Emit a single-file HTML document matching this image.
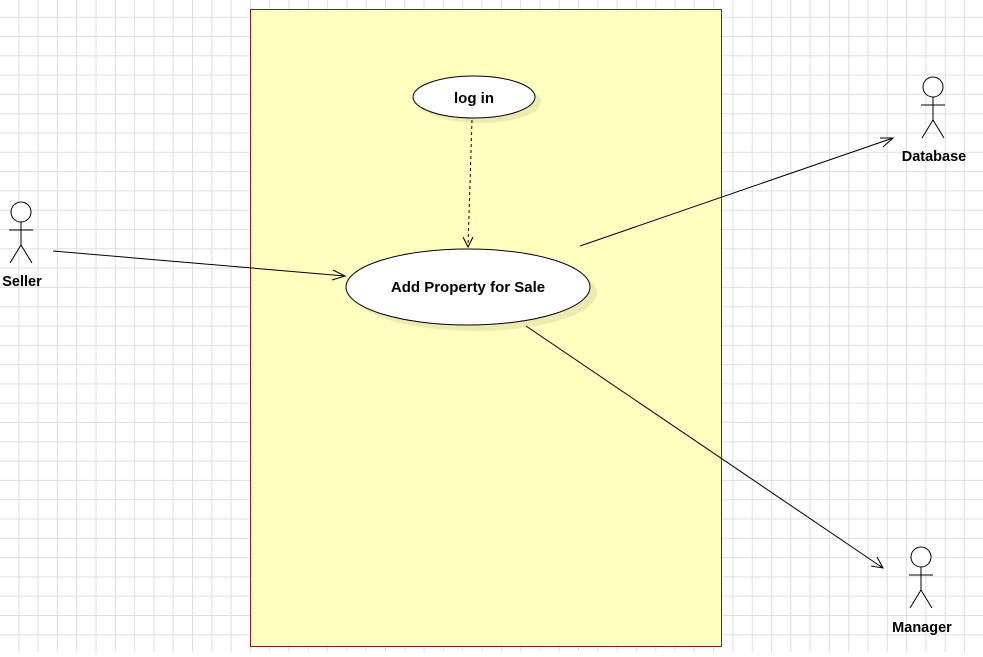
<!DOCTYPE html>
<html><head><style>body{margin:0;width:983px;height:652px;overflow:hidden;background:#fff}</style></head><body>
<svg width="983" height="652" xmlns="http://www.w3.org/2000/svg" font-family="Liberation Sans, sans-serif">
<defs>
<pattern id="g" x="0" y="-1.6" width="19.3" height="19.3" patternUnits="userSpaceOnUse">
<path d="M19.3 0V19.3M0 19.3H19.3" stroke="#dedede" stroke-width="2" fill="none"/>
</pattern>
</defs>
<rect width="983" height="652" fill="url(#g)"/>
<rect x="250.5" y="9.5" width="471" height="637" fill="#ffffc0" stroke="#8b1a1a" stroke-width="1"/>
<ellipse cx="480" cy="102" rx="61" ry="21" fill="#ecebb0"/>
<ellipse cx="474" cy="97" rx="61" ry="21" fill="#fff" stroke="#000"/>
<text x="474" y="103" text-anchor="middle" font-size="15" font-weight="bold">log in</text>
<ellipse cx="475" cy="293" rx="122" ry="38" fill="#ecebb0"/>
<ellipse cx="468" cy="287" rx="122" ry="38" fill="#fff" stroke="#000"/>
<text x="468" y="292" text-anchor="middle" font-size="15" font-weight="bold">Add Property for Sale</text>
<g stroke="#000" fill="none" stroke-width="1">
<line x1="472" y1="120" x2="468" y2="247" stroke-dasharray="3,3"/>
<path d="M463 237 L468 247 L473 237"/>
<line x1="53" y1="251" x2="345" y2="276"/>
<path d="M333 270 L345 276 L332 280"/>
<line x1="580" y1="246" x2="893" y2="138"/>
<path d="M880 138 L893 138 L883 147"/>
<line x1="526" y1="326" x2="883" y2="568"/>
<path d="M871 566 L883 568 L877 557"/>
</g>
<g stroke="#000" fill="#fff" stroke-width="1">
<circle cx="21" cy="212" r="10"/><path d="M21 222V245M9 230H33M21 245L10 263M21 245L32 263" fill="none"/>
<circle cx="933" cy="87" r="10"/><path d="M933 97V120M921 105H945M933 120L922 138M933 120L944 138" fill="none"/>
<circle cx="921" cy="557" r="10"/><path d="M921 567V590M909 575H933M921 590L910 608M921 590L932 608" fill="none"/>
</g>
<g font-size="14.5" font-weight="bold" text-anchor="middle">
<text x="22" y="286">Seller</text>
<text x="934" y="161">Database</text>
<text x="922" y="632">Manager</text>
</g>
</svg>
</body></html>
